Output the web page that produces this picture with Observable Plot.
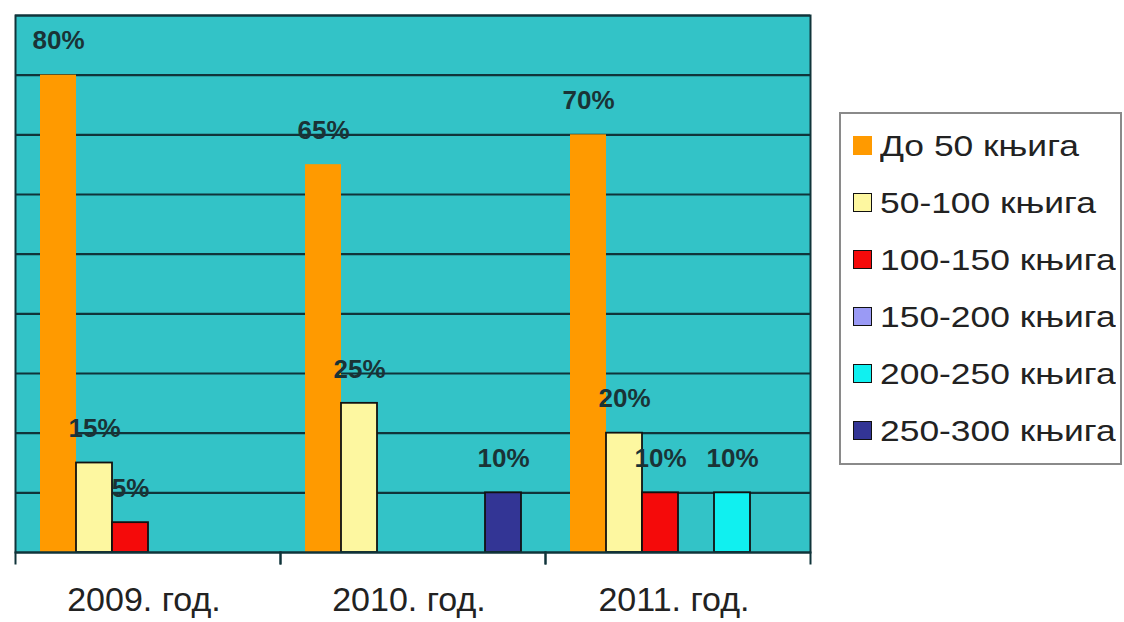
<!DOCTYPE html>
<html>
<head>
<meta charset="utf-8">
<script src="https://cdn.jsdelivr.net/npm/d3@7"></script>
<script src="https://cdn.jsdelivr.net/npm/@observablehq/plot@0.6"></script>
<style>
  html, body { margin: 0; padding: 0; background: #ffffff; }
  #wrap { position: relative; width: 1124px; height: 622px; overflow: hidden; font-family: "Liberation Sans", Arial, sans-serif; }
  #legend { position: absolute; left: 839px; top: 112px; width: 279px; height: 346px; border: 2px solid #8a8a8a; padding-top: 3px; box-sizing: content-box; }
  .item { display: flex; align-items: center; height: 57px; padding-left: 12px; font-size: 30px; color: #222; white-space: nowrap; }
  .sw { width: 17px; height: 17px; border: 1.5px solid #111; margin-right: 8px; flex: none; }
  .lbl { display: inline-block; transform: scaleX(1.18); transform-origin: left center; }
</style>
</head>
<body>
<div id="wrap"><div id="legend"></div></div>
<script>
// ---- data ----
const years = ["2009. год.", "2010. год.", "2011. год."];
const series = ["До 50 књига", "50-100 књига", "100-150 књига", "150-200 књига", "200-250 књига", "250-300 књига"];
const values2009 = [80, 15, 5, 0, 0, 0];
const values2010 = [65, 25, 0, 0, 0, 10];
const values2011 = [70, 20, 10, 0, 10, 0];
const colors = ["#ff9a00", "#fdf7a0", "#f50a0a", "#9a9af5", "#10f0f0", "#333595"];
const gridTicks = [10, 20, 30, 40, 50, 60, 70, 80];
const yMax = 90;

const valuesByYear = [values2009, values2010, values2011];
const rows = [];
years.forEach((y, i) => series.forEach((s, j) => rows.push({year: y, series: s, value: valuesByYear[i][j]})));
const shown = rows.filter(d => d.value > 0);

const W = 1124, H = 622, mT = 15, mB = 70, mL = 14, mR = 314;
const innerH = H - mT - mB;
const font = '"Liberation Sans", Arial, sans-serif';
const teal = "#33c3c7";
const dark = "#10343a";

const chart = Plot.plot({
  width: W,
  height: H,
  marginTop: mT,
  marginBottom: mB,
  marginLeft: mL,
  marginRight: mR,
  style: {fontFamily: font, background: "transparent", overflow: "visible"},
  fx: {domain: years, padding: 0, label: null},
  x: {domain: series, paddingInner: 0, paddingOuter: 0.65, axis: null},
  y: {domain: [0, yMax], axis: null},
  color: {domain: series, range: colors},
  marks: [
    Plot.frame({facet: "super", fill: teal, stroke: "none"}),
    Plot.ruleY(gridTicks, {stroke: dark, strokeWidth: 2.2}),
    Plot.barY(shown.filter(d => d.series === series[0]), {fx: "year", x: "series", y: "value", fill: "series"}),
    Plot.barY(shown.filter(d => d.series !== series[0]), {fx: "year", x: "series", y: "value", fill: "series", stroke: "#111", strokeWidth: 1.8}),
    Plot.ruleY([0], {stroke: dark, strokeWidth: 2.2}),
    Plot.ruleY([yMax], {stroke: dark, strokeWidth: 2.2}),
    Plot.frame({anchor: "left", insetTop: innerH, insetBottom: -11, stroke: dark, strokeWidth: 2}),
    Plot.frame({anchor: "right", insetTop: innerH, insetBottom: -11, stroke: dark, strokeWidth: 2}),
    Plot.frame({facet: "super", stroke: dark, strokeWidth: 2, fill: "none"}),
    Plot.text(shown, {fx: "year", x: "series", y: "value", text: d => d.value + "%", dy: -34, fontWeight: "bold", fontSize: 26, fill: "#1a3336", fontFamily: font}),
    Plot.axisFx({anchor: "bottom", tickSize: 0, tickPadding: 34, fontSize: 34, fill: "#222", label: null, dx: -4})
  ]
});
document.getElementById("wrap").prepend(chart);

const legend = document.getElementById("legend");
series.forEach((s, i) => {
  const item = document.createElement("div");
  item.className = "item";
  const sw = document.createElement("span");
  sw.className = "sw";
  sw.style.background = colors[i];
  if (i === 0) sw.style.borderColor = colors[i];
  item.appendChild(sw);
  const t = document.createElement("span");
  t.className = "lbl";
  t.textContent = s;
  item.appendChild(t);
  legend.appendChild(item);
});
</script>
</body>
</html>
